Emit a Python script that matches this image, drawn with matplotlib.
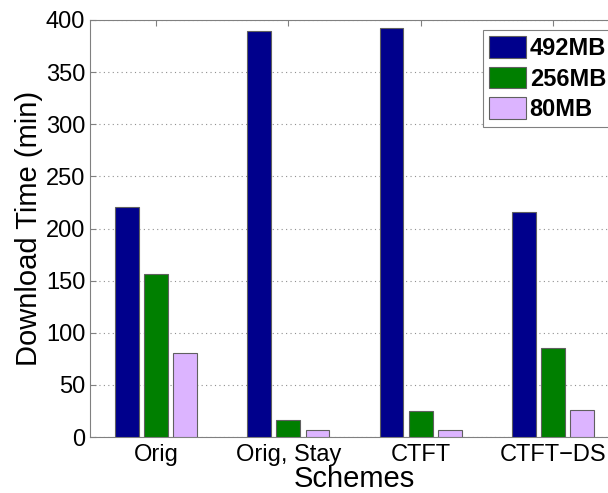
import numpy as np
import matplotlib
matplotlib.use('Agg')
import matplotlib.pyplot as plt

plt.rcParams['font.family'] = ['Liberation Sans', 'DejaVu Sans']

schemes = ['Orig', 'Orig, Stay', 'CTFT', 'CTFT\u2212DS']
sizes = ['492MB', '256MB', '80MB']
t492 = [221, 389, 392, 216]
t256 = [156, 16.5, 24.5, 85]
t80 = [81, 6.5, 6.5, 26]
colors = ['#00008c', '#007f00', '#dcb4ff']

fig = plt.figure(figsize=(6.08, 4.93), dpi=100)
ax = fig.add_axes([90/608, 1-437/493, 529/608, 417/493])

x = np.arange(1, len(schemes)+1)
off = 0.22
w = 0.18
for i, (vals, lab) in enumerate(zip([t492, t256, t80], sizes)):
    ax.bar(x + (i-1)*off, vals, w, color=colors[i], edgecolor='#606060',
           linewidth=0.8, label=lab, zorder=3)

ax.set_xlim(0.5, 4.5)
ax.set_ylim(0, 400)
ax.set_yticks(np.arange(0, 401, 50))
ax.set_xticks(x)
ax.set_xticklabels(schemes)
ax.tick_params(labelsize=17, direction='in', top=True, right=True,
               color='#808080', length=4)
ax.tick_params(axis='y', pad=3.5)
ax.tick_params(axis='x', pad=5)
ax.yaxis.grid(True, linestyle=(0, (1, 3)), color='#909090', linewidth=0.8)
for s in ax.spines.values():
    s.set_color('#808080')
ax.set_ylabel('Download Time (min)', fontsize=21, labelpad=2)
ax.set_xlabel('Schemes', fontsize=21, labelpad=-0.5)

leg = ax.legend(loc='upper left', bbox_to_anchor=(483/608, 1-30/493),
                bbox_transform=fig.transFigure, borderaxespad=0,
                fancybox=False, edgecolor='#808080', framealpha=1,
                prop={'size': 17, 'weight': 'bold'}, handlelength=1.55,
                handleheight=1.05, handletextpad=0.18, labelspacing=0.28,
                borderpad=0.25)
leg.get_frame().set_linewidth(0.8)

fig.savefig('out.png', dpi=100)
